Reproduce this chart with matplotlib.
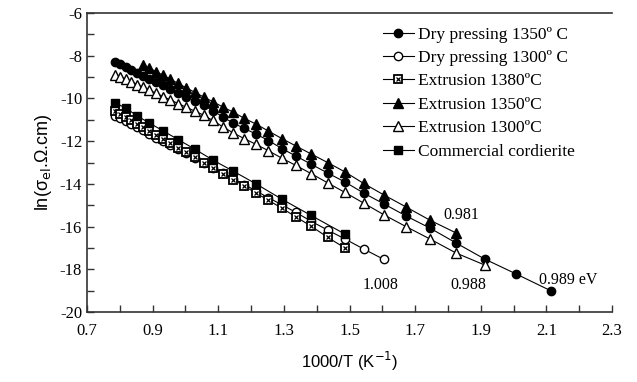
import matplotlib
matplotlib.use("Agg")
import matplotlib.pyplot as plt
from matplotlib.legend_handler import HandlerTuple
from matplotlib.ticker import MultipleLocator

# 1000/T values (K^-1)
x_full = [0.786, 0.801, 0.818, 0.835, 0.853, 0.871, 0.890, 0.911, 0.932, 0.954,
          0.978, 1.002, 1.028, 1.055, 1.083, 1.114, 1.145, 1.179, 1.215, 1.253,
          1.294, 1.337, 1.383, 1.433, 1.486, 1.543, 1.605, 1.672, 1.745, 1.825,
          1.912, 2.008, 2.114]

# Dry pressing 1350 C (filled circles)
dry1350_x = x_full
dry1350_y = [-8.29, -8.40, -8.53, -8.66, -8.79, -8.93, -9.07, -9.23, -9.39, -9.56,
             -9.74, -9.92, -10.11, -10.32, -10.57, -10.87, -11.15, -11.40, -11.67, -11.97,
             -12.35, -12.70, -13.08, -13.49, -13.91, -14.43, -14.94, -15.50, -16.07, -16.77,
             -17.52, -18.22, -19.01]

# Dry pressing 1300 C (open circles)
dry1300_x = x_full[:27]
dry1300_y = [-10.80, -10.92, -11.06, -11.20, -11.35, -11.50, -11.65, -11.83, -12.00, -12.18,
             -12.38, -12.57, -12.79, -13.01, -13.24, -13.50, -13.75, -14.03, -14.33, -14.65,
             -14.98, -15.34, -15.75, -16.16, -16.58, -17.05, -17.54]

# Extrusion 1380 C (crossed squares)
ext1380_x = x_full[:25]
ext1380_y = [-10.60, -10.73, -10.88, -11.03, -11.19, -11.35, -11.52, -11.71, -11.90, -12.10,
             -12.31, -12.53, -12.76, -13.00, -13.25, -13.52, -13.80, -14.10, -14.43, -14.77,
             -15.14, -15.55, -15.98, -16.50, -17.00]

# Extrusion 1350 C (filled triangles)
ext1350_x = x_full[5:30]
ext1350_y = [-8.43, -8.58, -8.75, -8.92, -9.10, -9.30, -9.50, -9.71, -9.93, -10.15,
             -10.40, -10.64, -10.93, -11.20, -11.53, -11.88, -12.23, -12.60, -13.00, -13.44,
             -13.98, -14.52, -15.08, -15.70, -16.30]

# Extrusion 1300 C (open triangles)
ext1300_x = x_full[:31]
ext1300_y = [-8.88, -8.98, -9.10, -9.22, -9.35, -9.48, -9.61, -9.76, -9.91, -10.07,
             -10.24, -10.41, -10.59, -10.78, -11.03, -11.33, -11.61, -11.88, -12.15, -12.45,
             -12.80, -13.14, -13.52, -13.95, -14.40, -14.90, -15.45, -16.00, -16.58, -17.24,
             -17.80]

# Commercial cordierite (filled squares)
comm_x = [0.786, 0.818, 0.853, 0.890, 0.932, 0.978, 1.028, 1.083, 1.145, 1.215,
          1.294, 1.383, 1.486]
comm_y = [-10.21, -10.45, -10.82, -11.15, -11.52, -11.93, -12.37, -12.88, -13.40, -14.00,
          -14.72, -15.48, -16.35]

labels = ["Dry pressing 1350º C", "Dry pressing 1300º C", "Extrusion 1380ºC",
          "Extrusion 1350ºC", "Extrusion 1300ºC", "Commercial cordierite"]

# activation energy labels
ea_text = ["0.981", "1.008", "0.988", "0.989 eV"]
ea_x = [1.842, 1.595, 1.863, 2.166]
ea_y = [-15.46, -18.73, -18.73, -18.50]

serif = "Liberation Serif"
sans = "Liberation Sans"


def main():
    fig = plt.figure(figsize=(6.37, 3.82), dpi=100)
    ax = fig.add_axes([0.1366, 0.1832, 0.8242, 0.7828])

    ms = 6
    lw = 0.8
    h1, = ax.plot(dry1350_x, dry1350_y, "-o", color="black", lw=lw, ms=ms,
                  mfc="black", mec="black")
    h2, = ax.plot(dry1300_x, dry1300_y, "-o", color="black", lw=lw, ms=ms,
                  mfc="white", mec="black", mew=1.0)
    h3a, = ax.plot(ext1380_x, ext1380_y, "-s", color="black", lw=lw, ms=ms - 0.5,
                   mfc="white", mec="black", mew=1.3)
    h3b, = ax.plot(ext1380_x, ext1380_y, "x", color="black", ms=3, mew=0.9)
    h4, = ax.plot(ext1350_x, ext1350_y, "-^", color="black", lw=lw, ms=ms + 0.5,
                  mfc="black", mec="black")
    h5, = ax.plot(ext1300_x, ext1300_y, "-^", color="black", lw=lw, ms=ms + 0.5,
                  mfc="white", mec="black", mew=1.0)
    h6, = ax.plot(comm_x, comm_y, "-s", color="black", lw=lw, ms=ms,
                  mfc="black", mec="black")

    for t, x, y in zip(ea_text, ea_x, ea_y):
        ax.text(x, y, t, fontsize=11.5, family=serif, ha="center", va="center")

    ax.set_xlim(0.7, 2.3)
    ax.set_ylim(-20, -6)
    ax.xaxis.set_minor_locator(MultipleLocator(0.1))
    ax.yaxis.set_minor_locator(MultipleLocator(1))
    ax.set_xticks([0.7, 0.9, 1.1, 1.3, 1.5, 1.7, 1.9, 2.1, 2.3])
    ax.set_xticklabels(["0.7", "0.9", "1.1", "1.3", "1.5", "1.7", "1.9", "2.1", "2.3"])
    ax.set_yticks(range(-20, -5, 2))
    ax.set_yticklabels([str(v) for v in range(-20, -5, 2)])
    ax.tick_params(which="both", direction="in", length=5, width=1, colors="#333333",
                   top=False, right=False, labelsize=12)
    ax.tick_params(axis="x", pad=8)
    for lab in ax.get_xticklabels() + ax.get_yticklabels():
        lab.set_family(serif)
        lab.set_color("black")

    for side in ["left", "bottom", "top"]:
        ax.spines[side].set_linewidth(1.2)
        ax.spines[side].set_color("#333333")
    ax.spines["right"].set_visible(False)

    ax.set_xlabel("1000/T (K$^{-1}$)", fontsize=12, family=sans, labelpad=8)
    ax.set_ylabel("ln(σ$_{\\rm el}$.Ω.cm)", fontsize=13, family=sans, labelpad=4)

    ax.legend([h1, h2, (h3a, h3b), h4, h5, h6], labels,
              handler_map={tuple: HandlerTuple(ndivide=1)},
              loc="upper left", bbox_to_anchor=(0.564, 0.955), frameon=False,
              prop={"family": serif, "size": 12.5}, borderpad=0, borderaxespad=0,
              labelspacing=0.42, handlelength=1.75, handletextpad=0.25)

    fig.savefig("out.png", dpi=100)


if __name__ == "__main__":
    main()
